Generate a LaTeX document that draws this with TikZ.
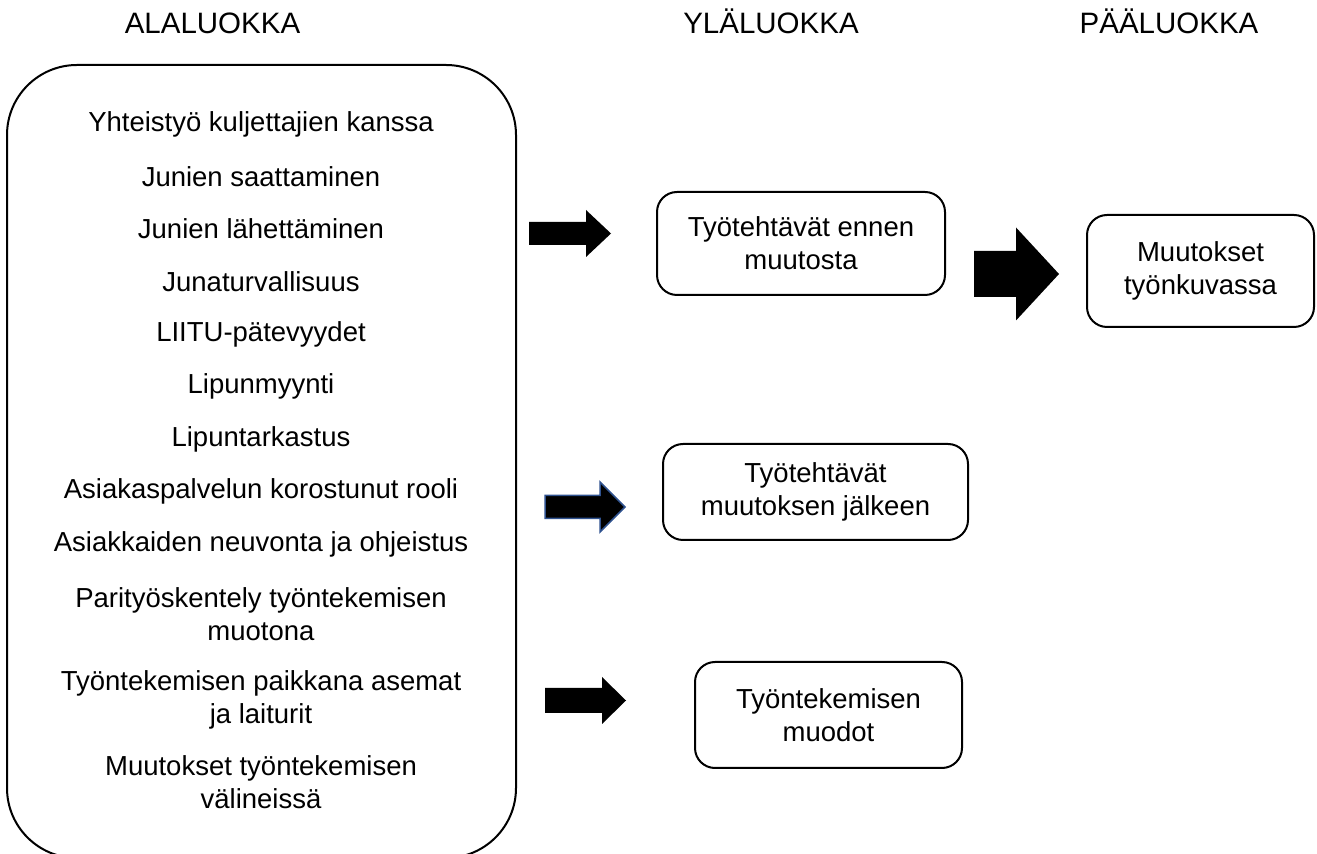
\documentclass[tikz,border=0pt]{standalone}
\usepackage{fontspec}
\setmainfont{Liberation Sans}
\usetikzlibrary{positioning}
\definecolor{edge}{HTML}{2F528F}
% block arrow: [style] tail x, head base x, tip x, mid y, half shaft, half head
\newcommand{\blockarr}[7][]{%
  \fill[#1] ({#2},{#5-#6}) -- ({#3},{#5-#6}) -- ({#3},{#5-#7}) -- ({#4},{#5})
    -- ({#3},{#5+#7}) -- ({#3},{#5+#6}) -- ({#2},{#5+#6}) -- cycle;}
\tikzset{
  head/.style={inner sep=0pt,anchor=base,font=\fontsize{14.75}{17}\selectfont},
  bigbox/.style={draw,line width=1pt,rounded corners=35pt,minimum width=254.5pt,minimum height=396.5pt,inner sep=0pt},
  item/.style={align=center,inner sep=0pt},
  catbox/.style={draw,line width=1pt,rounded corners=10pt,align=center,inner sep=0pt},
}
\begin{document}
\begin{tikzpicture}[x=0.5pt,y=-0.5pt,font=\fontsize{13.75}{16.5}\selectfont]
\useasboundingbox (0,0) rectangle (1317,854);
\clip (0,0) rectangle (1317,854);
% column titles
\node[head] (hala) at (212.5,33.5) {ALALUOKKA};
\node[head] (hyla) at (771,33.5) {YLÄLUOKKA};
\node[head] (hpaa) at (1169,33.5) {PÄÄLUOKKA};
% subcategories
\node[bigbox] (ala) at (261.5,461.5) {};
\node[item] (i1) at (261,124) {Yhteistyö kuljettajien kanssa};
\node[item] (i2) at (261,176.5) {Junien saattaminen};
\node[item] (i3) at (261,229) {Junien lähettäminen};
\node[item] (i4) at (261,281.5) {Junaturvallisuus};
\node[item] (i5) at (261,334) {LIITU-pätevyydet};
\node[item] (i6) at (261,386.5) {Lipunmyynti};
\node[item] (i7) at (261,439) {Lipuntarkastus};
\node[item] (i8) at (261,491.5) {Asiakaspalvelun korostunut rooli};
\node[item] (i9) at (261,544) {Asiakkaiden neuvonta ja ohjeistus};
\node[item] (i10) at (261,614) {Parityöskentely työntekemisen\\muotona};
\node[item] (i11) at (261,700) {Työntekemisen paikkana asemat\\ja laiturit};
\node[item] (i12) at (261,782) {Muutokset työntekemisen\\välineissä};
% upper categories
\node[catbox,minimum width=144pt,minimum height=51.5pt] (ennen) at (801,243.5) {Työtehtävät ennen\\muutosta};
\node[catbox,minimum width=152.5pt,minimum height=48pt] (jalkeen) at (815.5,492) {Työtehtävät\\muutoksen jälkeen};
\node[catbox,minimum width=133.5pt,minimum height=53pt] (muodot) at (828.5,715) {Työntekemisen\\muodot};
% main category
\node[catbox,minimum width=113.5pt,minimum height=56pt] (kuva) at (1200.5,271) {Muutokset\\työnkuvassa};
% arrows
\blockarr{529}{586}{611}{233.5}{11.5}{23.5}
\blockarr[draw=edge,line width=0.75pt]{545}{600}{625}{507}{11.5}{25}
\blockarr{545}{602}{626}{700.5}{12.5}{23.5}
\blockarr{974}{1016}{1059}{274}{23}{46.5}
\end{tikzpicture}
\end{document}
